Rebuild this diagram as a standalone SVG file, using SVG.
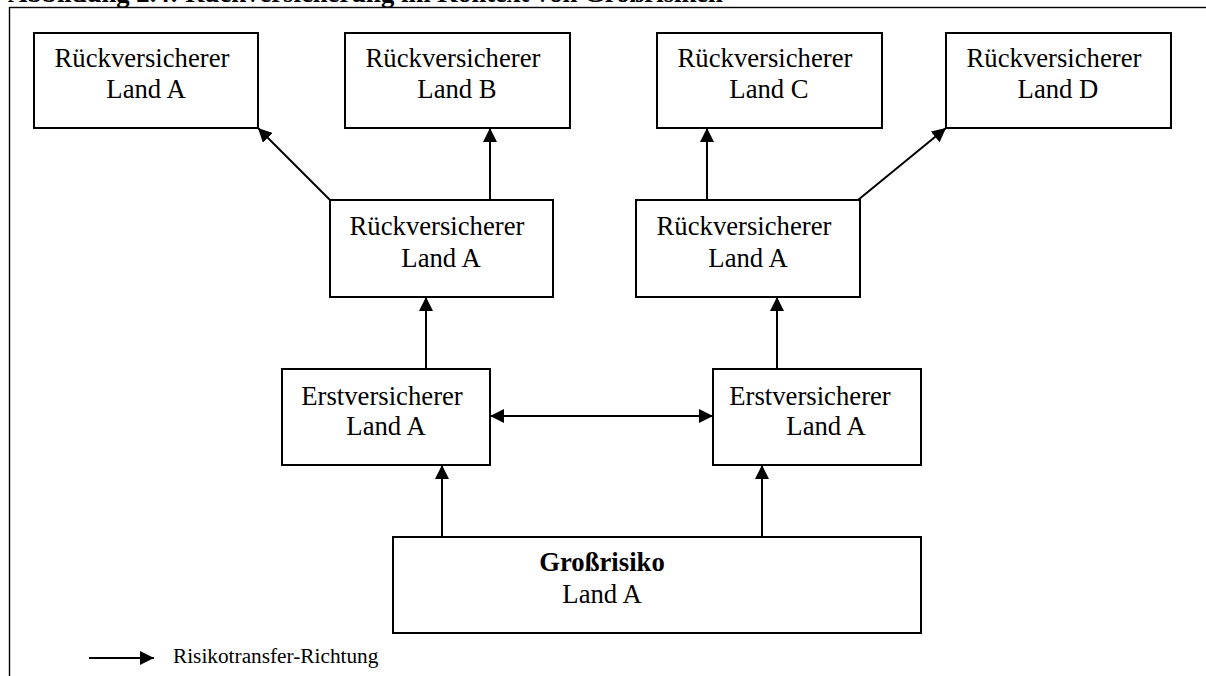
<svg xmlns="http://www.w3.org/2000/svg" width="1206" height="676" viewBox="0 0 1206 676">
  <style>
    .box { fill: #fff; stroke: #000; stroke-width: 2; }
    .lbl { font-family: "Liberation Serif", "Times New Roman", serif; font-size: 26.7px; fill: #000; text-anchor: middle; }
    .bold { font-weight: bold; }
    .edge { fill: none; stroke: #000; stroke-width: 2; }
    .frame { fill: none; stroke: #000; stroke-width: 1.4; }
  </style>
  <defs>
    <marker id="head" markerUnits="userSpaceOnUse" markerWidth="14" markerHeight="14" refX="14" refY="7" orient="auto-start-reverse" viewBox="0 0 14 14">
      <path d="M0,0 L14,7 L0,14 z" fill="#000"/>
    </marker>
  </defs>
  <rect width="1206" height="676" fill="#fff"/>

  <!-- caption, running off the top edge -->
  <text x="8" y="1.5" font-family="Liberation Serif, serif" font-size="26.7" font-weight="bold">Abbildung 2.4: Rückversicherung im Kontext von Großrisiken</text>
  <rect class="frame" x="9.5" y="7.5" width="1220" height="690"/>

  <g id="connectors">
    <path class="edge" d="M330,200 L258,128" marker-end="url(#head)"/>
    <path class="edge" d="M490,200 L490,128" marker-end="url(#head)"/>
    <path class="edge" d="M707,200 L707,128" marker-end="url(#head)"/>
    <path class="edge" d="M858,200 L946,128" marker-end="url(#head)"/>
    <path class="edge" d="M426,369 L426,297" marker-end="url(#head)"/>
    <path class="edge" d="M777,369 L777,297" marker-end="url(#head)"/>
    <path class="edge" d="M490,416 L713,416" marker-start="url(#head)" marker-end="url(#head)"/>
    <path class="edge" d="M442,537 L442,465" marker-end="url(#head)"/>
    <path class="edge" d="M762,537 L762,465" marker-end="url(#head)"/>
  </g>

  <g id="rv-a-top">
    <rect class="box" x="34" y="33" width="224" height="95"/>
    <text class="lbl" x="142" y="67">Rückversicherer</text>
    <text class="lbl" x="146" y="98">Land A</text>
  </g>
  <g id="rv-b">
    <rect class="box" x="345" y="33" width="225" height="95"/>
    <text class="lbl" x="453" y="67">Rückversicherer</text>
    <text class="lbl" x="457" y="98">Land B</text>
  </g>
  <g id="rv-c">
    <rect class="box" x="657" y="33" width="225" height="95"/>
    <text class="lbl" x="765" y="67">Rückversicherer</text>
    <text class="lbl" x="769" y="98">Land C</text>
  </g>
  <g id="rv-d">
    <rect class="box" x="946" y="33" width="225" height="95"/>
    <text class="lbl" x="1054" y="67">Rückversicherer</text>
    <text class="lbl" x="1058" y="98">Land D</text>
  </g>

  <g id="rv-a-left">
    <rect class="box" x="330" y="200" width="223" height="97"/>
    <text class="lbl" x="437" y="235">Rückversicherer</text>
    <text class="lbl" x="441" y="267">Land A</text>
  </g>
  <g id="rv-a-right">
    <rect class="box" x="636" y="200" width="224" height="97"/>
    <text class="lbl" x="744" y="235">Rückversicherer</text>
    <text class="lbl" x="748" y="267">Land A</text>
  </g>

  <g id="ev-left">
    <rect class="box" x="282" y="369" width="208" height="96"/>
    <text class="lbl" x="382" y="405">Erstversicherer</text>
    <text class="lbl" x="386" y="435">Land A</text>
  </g>
  <g id="ev-right">
    <rect class="box" x="713" y="369" width="208" height="96"/>
    <text class="lbl" x="810" y="405">Erstversicherer</text>
    <text class="lbl" x="826" y="435">Land A</text>
  </g>

  <g id="grossrisiko">
    <rect class="box" x="393" y="537" width="528" height="96"/>
    <text class="lbl bold" x="602" y="571">Großrisiko</text>
    <text class="lbl" x="602" y="603">Land A</text>
  </g>

  <g id="legend">
    <path class="edge" d="M89,658 L154,658" marker-end="url(#head)"/>
    <text x="173" y="663" font-family="Liberation Serif, serif" font-size="21.3">Risikotransfer-Richtung</text>
  </g>
</svg>
